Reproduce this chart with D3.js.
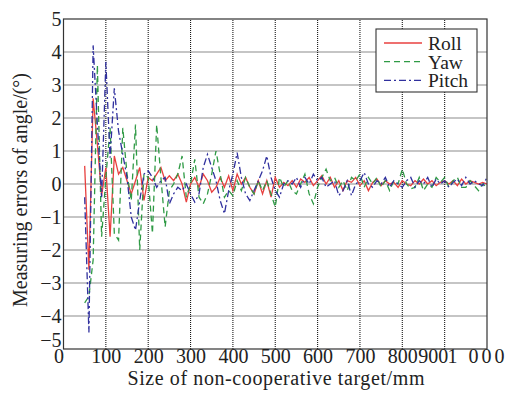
<!DOCTYPE html>
<html>
<head>
<meta charset="utf-8">
<script src="https://cdn.jsdelivr.net/npm/d3@7"></script>
<style>
  body { margin: 0; background: #fff; }
  svg text { font-family: "Liberation Serif", "Times New Roman", serif; fill: #222; }
</style>
</head>
<body>
<svg id="chart"></svg>
<script>
// target size (mm)
var sizes = [50, 60, 70, 80, 90, 100, 110, 120, 130, 140,
  150, 160, 170, 180, 190, 200, 210, 220, 230, 240,
  250, 260, 270, 280, 290, 300, 310, 320, 330, 340,
  350, 360, 370, 380, 390, 400, 410, 420, 430, 440,
  450, 460, 470, 480, 490, 500, 510, 520, 530, 540,
  550, 560, 570, 580, 590, 600, 610, 620, 630, 640,
  650, 660, 670, 680, 690, 700, 710, 720, 730, 740,
  750, 760, 770, 780, 790, 800, 810, 820, 830, 840,
  850, 860, 870, 880, 890, 900, 910, 920, 930, 940,
  950, 960, 970, 980, 990, 1000];

var roll = [0.55, -2.6, 2.6, 1.2, -0.35, 0.5, -1.6, 0.85, 0.3, 0.5,
  0.1, -0.3, 0.1, 0.5, -0.5, 0.2, 0.1, 0.3, 0.5, 0.1,
  0.25, 0.1, 0.3, 0.0, -0.55, 0.0, 0.2, -0.1, 0.3, 0.1,
  -0.25, -0.1, 0.2, -0.1, 0.25, -0.2, 0.3, 0.0, 0.2, -0.1,
  -0.3, 0.1, -0.3, 0.1, -0.4, 0.2, -0.1, 0.05, -0.05, 0.1,
  -0.1, 0.15, 0.05, 0.2, -0.05, 0.1, 0.25, 0.0, 0.2, -0.1,
  0.1, -0.2, 0.1, 0.05, 0.2, -0.05, 0.1, -0.2, 0.05, 0.15,
  -0.05, 0.1, 0.0, 0.05, -0.1, 0.1, 0.0, -0.05, 0.1, 0.0,
  0.15, 0.0, 0.1, -0.05, 0.05, 0.1, 0.0, 0.1, -0.05, 0.15,
  0.0, 0.1, 0.05, 0.0, 0.05, 0.0];

var yaw = [-3.6, -3.4, -2.3, 3.6, -1.6, 0.2, 1.7, -1.5, -1.7, 1.7,
  0.3, -0.5, 1.8, -2.0, 0.3, 0.2, -1.5, 1.8, 0.2, -1.3,
  -0.2, 0.0, 0.3, 0.85, -0.4, 0.0, 0.75, -0.4, -0.6, -0.3,
  0.3, 1.0, 0.3, -0.4, -0.2, -0.35, 0.1, -0.2, 0.2, -0.1,
  -0.3, 0.1, -0.2, 0.1, -0.3, -0.7, 0.2, -0.1, 0.1, -0.2,
  -0.3, 0.0, 0.3, -0.3, -0.6, -0.1, 0.2, 0.45, 0.1, 0.2,
  -0.1, 0.1, -0.2, 0.2, 0.1, 0.3, -0.1, 0.2, 0.0, 0.2,
  -0.1, 0.1, -0.2, 0.1, 0.0, 0.45, 0.0, -0.15, -0.1, 0.2,
  -0.2, 0.0, -0.1, 0.2, 0.05, 0.2, -0.1, 0.1, 0.2, -0.1,
  -0.1, 0.1, -0.05, -0.2, 0.0, -0.1];

var pitch = [-0.4, -4.5, 4.2, 1.8, -0.4, 3.7, 0.8, 2.9, 1.6, 0.9,
  0.2, -1.0, -1.4, -0.5, 0.3, 0.4, 0.2, -0.1, 0.1, 0.2,
  -0.6, -0.3, -0.1, -0.2, 0.0, -0.3, -0.55, -0.3, 0.5, 0.9,
  0.5, 0.1, -0.5, -0.9, -0.2, 0.3, 0.95, 0.2, -0.3, -0.5,
  -0.2, 0.1, 0.4, 0.85, 0.2, -0.2, -0.4, 0.0, 0.1, 0.0,
  0.2, -0.1, 0.2, 0.0, 0.3, 0.1, 0.2, -0.1, 0.0, 0.1,
  -0.35, -0.2, 0.1, -0.35, 0.0, 0.1, 0.35, 0.0, -0.1, 0.1,
  0.0, 0.2, -0.1, 0.1, 0.0, -0.1, 0.1, 0.2, -0.1, 0.1,
  0.0, 0.2, -0.1, 0.15, 0.0, 0.1, -0.1, 0.05, 0.15, -0.05,
  0.2, 0.0, 0.1, 0.0, -0.05, 0.2];

var xTicks = [0, 100, 200, 300, 400, 500, 600, 700, 800, 900, 1000];
var xTickLabels = ["0", "100", "200", "300", "400", "500", "600", "700", "800", "900", "1 000"];
var yTicks = [-5, -4, -3, -2, -1, 0, 1, 2, 3, 4, 5];

var seriesNames = ["Roll", "Yaw", "Pitch"];
var seriesValues = [roll, yaw, pitch];
var seriesColors = ["#e8403f", "#2f9a45", "#30309e"];
var seriesDash = [null, "6,4", "7,3,2,3"];

var width = 512, height = 397;
var margin = { left: 63.5, right: 25, top: 19, bottom: 48 };

var svg = d3.select("#chart")
  .attr("width", width)
  .attr("height", height);

var x = d3.scaleLinear().domain([0, 1000]).range([margin.left, width - margin.right]);
var y = d3.scaleLinear().domain([-5, 5]).range([height - margin.bottom, margin.top]);

// dotted grid
svg.append("g").selectAll("line")
  .data(xTicks.slice(1, -1))
  .enter().append("line")
  .attr("x1", function (d) { return x(d); })
  .attr("x2", function (d) { return x(d); })
  .attr("y1", y(-5)).attr("y2", y(5))
  .attr("stroke", "#1a1a1a").attr("stroke-width", 1.1)
  .attr("stroke-dasharray", "1,1");

svg.append("g").selectAll("line")
  .data(yTicks.slice(1, -1))
  .enter().append("line")
  .attr("y1", function (d) { return y(d); })
  .attr("y2", function (d) { return y(d); })
  .attr("x1", x(0)).attr("x2", x(1000))
  .attr("stroke", "#1a1a1a").attr("stroke-width", 1.1)
  .attr("stroke-dasharray", "1,1");

// lines
var line = d3.line()
  .x(function (d) { return x(d[0]); })
  .y(function (d) { return y(d[1]); });

seriesValues.forEach(function (vals, i) {
  svg.append("path")
    .datum(sizes.map(function (s, j) { return [s, vals[j]]; }))
    .attr("fill", "none")
    .attr("stroke", seriesColors[i])
    .attr("stroke-width", 1.3)
    .attr("stroke-dasharray", seriesDash[i])
    .attr("d", line);
});

// axes box
svg.append("rect")
  .attr("x", x(0)).attr("y", y(5))
  .attr("width", x(1000) - x(0)).attr("height", y(-5) - y(5))
  .attr("fill", "none").attr("stroke", "#333").attr("stroke-width", 1.2);

// tick labels
var xAxis = d3.axisBottom(x).tickValues(xTicks)
  .tickFormat(function (d, i) { return xTickLabels[i]; })
  .tickSize(0);
var gx = svg.append("g")
  .attr("transform", "translate(0," + y(-5) + ")")
  .call(xAxis);
gx.select(".domain").remove();
gx.selectAll("text")
  .style("font-size", "20px").style("font-family", "Liberation Serif")
  .attr("fill", "#222")
  .attr("y", 1).attr("dy", "0.66em");
gx.selectAll(".tick").filter(function (d) { return d === 0; })
  .select("text").attr("dx", -5);
gx.selectAll(".tick").filter(function (d) { return d === 900; })
  .select("text").attr("dx", -12);
// last label is set wider and starts just after "900", as in the print
gx.selectAll(".tick").filter(function (d) { return d === 1000; })
  .select("text").attr("text-anchor", "start").attr("dx", 447 - x(1000))
  .style("letter-spacing", "3px");

var yAxis = d3.axisLeft(y).tickValues(yTicks)
  .tickFormat(function (d) { return d < 0 ? "\u2212" + Math.abs(d) : String(d); })
  .tickSize(0).tickPadding(2);
var gy = svg.append("g")
  .attr("transform", "translate(" + x(0) + ",0)")
  .call(yAxis);
gy.select(".domain").remove();
gy.selectAll("text").style("font-size", "20px").style("font-family", "Liberation Serif").attr("fill", "#222");
gy.selectAll(".tick").filter(function (d) { return d === -5; })
  .select("text").attr("dy", "-0.15em");

// axis titles
svg.append("text")
  .attr("x", (x(0) + x(1000)) / 2 + 1)
  .attr("y", 385)
  .attr("text-anchor", "middle")
  .style("font-size", "20px")
  .style("letter-spacing", "0.6px")
  .text("Size of non-cooperative target/mm");

svg.append("text")
  .attr("transform", "translate(27," + (y(0) + 6) + ") rotate(-90)")
  .attr("text-anchor", "middle")
  .style("font-size", "20px")
  .text("Measuring errors of angle/(°)");

// legend
var legend = svg.append("g").attr("transform", "translate(376,29)");
legend.append("rect")
  .attr("width", 101).attr("height", 63)
  .attr("fill", "#fff").attr("stroke", "#333").attr("stroke-width", 1.1);

var items = legend.selectAll(".legend")
  .data(seriesNames)
  .enter().append("g")
  .attr("class", "legend")
  .attr("transform", function (d, i) { return "translate(0," + (14 + i * 18.7) + ")"; });

items.append("line")
  .attr("x1", 8).attr("x2", 46)
  .attr("stroke", function (d, i) { return seriesColors[i]; })
  .attr("stroke-width", 1.3)
  .attr("stroke-dasharray", function (d, i) { return seriesDash[i]; });

items.append("text")
  .attr("x", 52).attr("y", 7)
  .style("font-size", "19.5px")
  .text(function (d) { return d; });
</script>
</body>
</html>
